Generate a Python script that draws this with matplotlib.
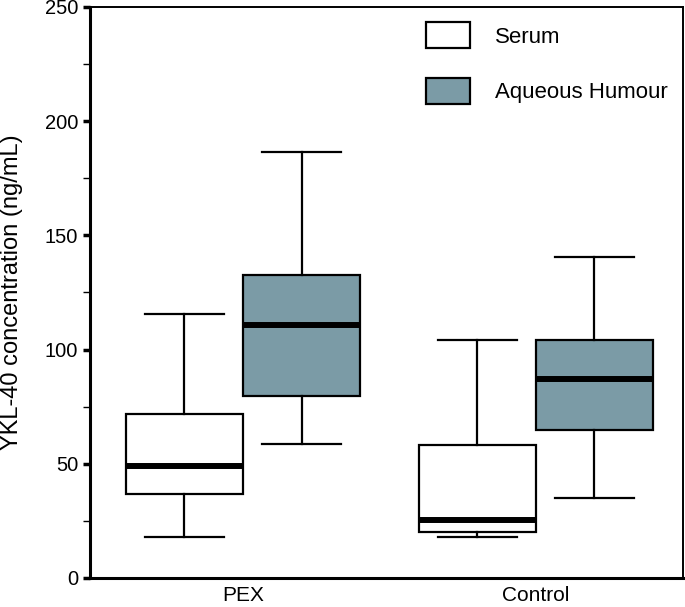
import numpy as np
import matplotlib.pyplot as plt
from matplotlib.patches import Patch

plt.rcParams['font.family'] = ['Liberation Sans', 'DejaVu Sans']

groups = ['PEX', 'Control']
series = ['Serum', 'Aqueous Humour']
colors = ['white', '#7b9ba6']

# box stats: [PEX, Control]
whislo = {'Serum': [18, 18], 'Aqueous Humour': [58.7, 35]}
q1 = {'Serum': [36.8, 20], 'Aqueous Humour': [79.7, 64.8]}
med = {'Serum': [49, 25.4], 'Aqueous Humour': [110.8, 87]}
q3 = {'Serum': [71.8, 58.2], 'Aqueous Humour': [132.8, 104.2]}
whishi = {'Serum': [115.6, 104.2], 'Aqueous Humour': [186.5, 140.5]}

fig = plt.figure(figsize=(6.85, 6.07), dpi=100)
ax = fig.add_axes([0.1314, 0.0478, 0.8656, 0.9408])

x = np.arange(1, len(groups) + 1)
offs = [-0.2, 0.2]
for s, name in enumerate(series):
    stats = []
    for g in range(len(groups)):
        stats.append(dict(whislo=whislo[name][g], q1=q1[name][g], med=med[name][g],
                          q3=q3[name][g], whishi=whishi[name][g], fliers=[]))
    ax.bxp(stats, positions=x + offs[s], widths=0.4, patch_artist=True,
           showfliers=False, capwidths=0.27,
           boxprops=dict(facecolor=colors[s], edgecolor='black', linewidth=1.6),
           medianprops=dict(color='black', linewidth=4.3, solid_capstyle='butt'),
           whiskerprops=dict(color='black', linewidth=1.6),
           capprops=dict(color='black', linewidth=1.6))

ax.set_xlim(0.478, 2.502)
ax.set_ylim(0, 250)
ax.set_xticks(x)
ax.set_xticklabels(groups, fontsize=15)
ax.tick_params(axis='x', length=0, pad=6)
ax.set_yticks(np.arange(0, 251, 50))
ax.set_yticks(np.arange(25, 250, 50), minor=True)
ax.tick_params(axis='y', which='major', labelsize=14.5, length=5, width=2.5, direction='out')
ax.tick_params(axis='y', which='minor', length=5, width=1)
ax.set_ylabel('YKL-40 concentration (ng/mL)', fontsize=17)
ax.yaxis.set_label_coords(-0.113, 0.5)
for sp in ax.spines.values():
    sp.set_linewidth(1.4)
ax.spines['left'].set_linewidth(2.2)
ax.spines['bottom'].set_linewidth(2.2)

handles = [Patch(facecolor=c, edgecolor='black', linewidth=1.6) for c in colors]
ax.legend(handles, series, loc='upper right', bbox_to_anchor=(1.0, 1.0), frameon=False,
          fontsize=16, handlelength=2.0, handleheight=1.4, labelspacing=1.35,
          handletextpad=1.1, borderaxespad=0.3)

fig.savefig('out.png', dpi=100)
